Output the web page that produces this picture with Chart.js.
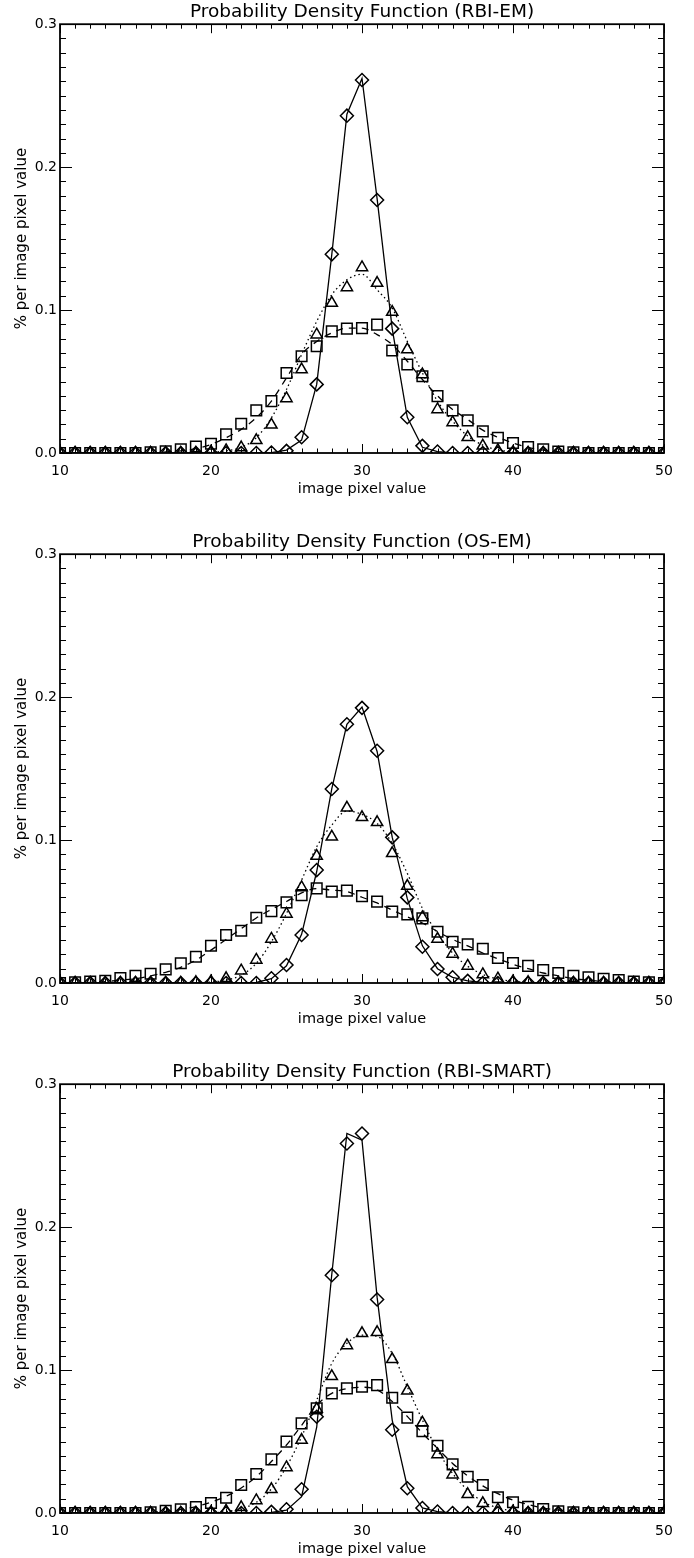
<!DOCTYPE html>
<html>
<head>
<meta charset="utf-8">
<script src="https://cdn.jsdelivr.net/npm/chart.js@4.4.0/dist/chart.umd.min.js"></script>
<style>
  body { margin: 0; background: #fff; overflow: hidden; }
  .panel { position: absolute; left: 0; }
</style>
</head>
<body>
<canvas id="pdfEm" class="panel" width="694" height="498" style="top:0px"></canvas>
<canvas id="pdfOs" class="panel" width="694" height="498" style="top:530px"></canvas>
<canvas id="pdfSmart" class="panel" width="694" height="498" style="top:1060px"></canvas>
<script>
const pixelValues = [10,11,12,13,14,15,16,17,18,19,20,21,22,23,24,25,26,27,28,29,30,31,32,33,34,35,36,37,38,39,40,41,42,43,44,45,46,47,48,49,50];
const xMajorTicks = [10, 20, 30, 40, 50];
const yMajorTicks = [0.0, 0.1, 0.2, 0.3];

// RBI-EM
const emDiamond = [0,0,0,0,0,0,0,0,0,0,0,0,0, 0,0.0003,0.0015,0.011,0.048,0.139,0.236,0.261,0.177,0.087,0.025,0.005,0.001, 0,0,0,0,0,0,0,0,0,0,0,0,0,0,0];
const emSolid = [0,0,0,0,0,0,0,0,0,0,0,0,0, 0,0.0003,0.002,0.009,0.048,0.139,0.237,0.262,0.178,0.087,0.025,0.004,0.001, 0,0,0,0,0,0,0,0,0,0,0,0,0,0,0];
const emTriangle = [0,0,0,0,0,0,0,0,0,0, 0.0008,0.0018,0.0038,0.0089,0.0197,0.0382,0.0584,0.0828,0.1049,0.1158,0.1298,0.1189,0.0986,0.0724,0.0549,0.0305,0.0214,0.011,0.005,0.0019,0.0006, 0,0,0,0,0,0,0,0,0,0];
const emDotted = [0,0,0,0,0,0,0,0,0,0, 0.0005,0.0015,0.004,0.0107,0.0246,0.0444,0.0689,0.0921,0.1107,0.1212,0.1251,0.1142,0.1014,0.0781,0.056,0.0363,0.0223,0.0119,0.0055,0.0022,0.0008, 0,0,0,0,0,0,0,0,0,0];
const emSquare = [0,0,0,0,0,0, 0.0005,0.0012,0.0025,0.0045,0.0065,0.013,0.0205,0.0298,0.0363,0.056,0.0677,0.0747,0.0851,0.087,0.0874,0.0898,0.0717,0.0619,0.0537,0.0398,0.0298,0.0228,0.0151,0.0107,0.007,0.0042,0.0025,0.001,0.0005, 0,0,0,0,0,0];
const emDashed = [0,0,0,0,0,0,0, 0.0007,0.0015,0.003,0.006,0.0107,0.0165,0.0247,0.0363,0.0526,0.069,0.078,0.084,0.0874,0.0874,0.0828,0.0758,0.0642,0.0514,0.04,0.0305,0.0235,0.016,0.011,0.007,0.004,0.002,0.001, 0,0,0,0,0,0,0];

// OS-EM
const osDiamond = [0,0,0,0,0,0,0,0,0,0,0,0,0,0, 0.0033,0.0126,0.0336,0.079,0.1357,0.181,0.1925,0.1625,0.1019,0.0599,0.0254,0.0098,0.004,0.0015, 0,0,0,0,0,0,0,0,0,0,0,0,0];
const osSolid = [0,0,0,0,0,0,0,0,0,0,0,0,0, 0.0005,0.003,0.012,0.034,0.078,0.136,0.181,0.193,0.162,0.102,0.059,0.026,0.01,0.004,0.0015,0.0005, 0,0,0,0,0,0,0,0,0,0,0,0];
const osTriangle = [0,0,0,0,0,0,0,0,0, 0.0005,0.001,0.0033,0.0086,0.0161,0.0308,0.0483,0.0669,0.0888,0.1023,0.1226,0.1159,0.1124,0.0907,0.0678,0.0459,0.0308,0.0203,0.0119,0.006,0.003,0.001,0.0005, 0,0,0,0,0,0,0,0,0];
const osDotted = [0,0,0,0,0,0,0,0,0,0, 0.0007,0.002,0.0055,0.0138,0.0289,0.0487,0.072,0.0953,0.1105,0.1203,0.118,0.1117,0.0977,0.0767,0.0522,0.0347,0.021,0.0117,0.006,0.0028,0.0012,0.0005, 0,0,0,0,0,0,0,0,0];
const osSquare = [0,0.0005,0.001,0.0015,0.0035,0.005,0.0065,0.0095,0.0138,0.0184,0.0261,0.0336,0.0366,0.0457,0.0503,0.0564,0.0615,0.0662,0.0639,0.0646,0.0608,0.0569,0.0499,0.048,0.0452,0.0359,0.0289,0.027,0.024,0.0175,0.014,0.012,0.009,0.007,0.005,0.004,0.003,0.002,0.001,0.0005,0];
const osDashed = [0,0,0.0005,0.001,0.002,0.003,0.005,0.0075,0.011,0.016,0.023,0.0305,0.038,0.0455,0.0515,0.057,0.063,0.066,0.065,0.064,0.06,0.056,0.051,0.0463,0.042,0.036,0.0305,0.026,0.021,0.017,0.013,0.01,0.007,0.005,0.003,0.002,0.001,0.0005,0,0,0];

// RBI-SMART
const smDiamond = [0,0,0,0,0,0,0,0,0,0,0,0,0,0, 0.0008,0.0026,0.0166,0.0673,0.1664,0.2585,0.2655,0.1494,0.0582,0.0173,0.0035,0.001, 0,0,0,0,0,0,0,0,0,0,0,0,0,0,0];
const smSolid = [0,0,0,0,0,0,0,0,0,0,0,0,0,0, 0.0005,0.002,0.0114,0.06,0.167,0.2655,0.2608,0.151,0.065,0.0184,0.0035,0.001, 0,0,0,0,0,0,0,0,0,0,0,0,0,0,0];
const smTriangle = [0,0,0,0,0,0,0,0,0,0, 0.0005,0.0015,0.004,0.0088,0.0166,0.0319,0.051,0.0727,0.0956,0.1172,0.1257,0.1264,0.1075,0.0855,0.0631,0.041,0.0268,0.0131,0.0068,0.0023,0.001, 0,0,0,0,0,0,0,0,0,0];
const smDotted = [0,0,0,0,0,0,0,0,0,0,0, 0.001,0.003,0.0075,0.0168,0.0324,0.0534,0.079,0.1047,0.1187,0.1245,0.1236,0.1117,0.0883,0.065,0.044,0.0277,0.016,0.008,0.0035,0.0015,0.0005, 0,0,0,0,0,0,0,0,0];
const smSquare = [0,0,0,0,0,0, 0.0005,0.0015,0.0025,0.0042,0.007,0.0107,0.0196,0.0273,0.0375,0.0499,0.0627,0.0732,0.0837,0.0872,0.0883,0.0895,0.0806,0.0667,0.0573,0.0471,0.034,0.0254,0.0196,0.011,0.0075,0.0044,0.0028,0.0012,0.0005, 0,0,0,0,0,0];
const smDashed = [0,0,0,0,0,0, 0.0005,0.0012,0.0025,0.0045,0.0075,0.0117,0.0175,0.0254,0.036,0.0476,0.0613,0.0755,0.0837,0.087,0.088,0.0862,0.078,0.0676,0.0559,0.0452,0.0347,0.026,0.019,0.0135,0.009,0.006,0.0035,0.002,0.001, 0,0,0,0,0,0];

Chart.defaults.font.family = 'DejaVu Sans';
Chart.defaults.color = '#000';

function pts(values) {
  return values.map((v, i) => ({ x: pixelValues[i], y: v }));
}

function lineSet(values, dash, smooth) {
  return {
    data: pts(values),
    borderColor: '#000',
    borderWidth: 1.3,
    borderDash: dash,
    pointRadius: 0,
    cubicInterpolationMode: smooth ? 'monotone' : 'default',
    clip: 0
  };
}

function markerSet(values, style, radius) {
  return {
    data: pts(values),
    showLine: false,
    pointStyle: style,
    pointRadius: radius,
    pointBorderColor: '#000',
    pointBackgroundColor: 'rgba(0,0,0,0)',
    pointBorderWidth: 1.5,
    clip: 0
  };
}

// IDL style box with inward ticks on all four sides
const boxTicks = {
  id: 'boxTicks',
  afterDatasetsDraw(chart) {
    const { ctx, chartArea: a, scales: { x, y } } = chart;
    ctx.save();
    ctx.strokeStyle = '#000';
    ctx.lineWidth = 1;
    ctx.beginPath();
    for (let v = 10; v <= 50; v++) {
      const px = Math.round(x.getPixelForValue(v)) + 0.5;
      const len = xMajorTicks.includes(v) ? 9 : 4.5;
      ctx.moveTo(px, a.bottom); ctx.lineTo(px, a.bottom - len);
      ctx.moveTo(px, a.top); ctx.lineTo(px, a.top + len);
    }
    for (let i = 0; i <= 30; i++) {
      const py = Math.round(y.getPixelForValue(i / 100)) + 0.5;
      const len = i % 10 === 0 ? 12 : 6;
      ctx.moveTo(a.left, py); ctx.lineTo(a.left + len, py);
      ctx.moveTo(a.right, py); ctx.lineTo(a.right - len, py);
    }
    ctx.stroke();
    ctx.lineWidth = 1.8;
    ctx.strokeRect(a.left, a.top, a.right - a.left, a.bottom - a.top);
    ctx.restore();
  }
};

function makePanel(id, title, solid, diamond, dotted, triangle, dashed, square) {
  return new Chart(document.getElementById(id), {
    type: 'line',
    data: {
      datasets: [
        lineSet(solid, [], false),
        lineSet(dotted, [1.5, 3], true),
        lineSet(dashed, [7, 6], true),
        markerSet(diamond, 'rectRot', 6.5),
        markerSet(triangle, 'triangle', 6.5),
        markerSet(square, 'rect', 7.5)
      ]
    },
    options: {
      responsive: false,
      animation: false,
      devicePixelRatio: 1,
      layout: { padding: { left: 0, right: 30, top: 0, bottom: 0 } },
      plugins: {
        legend: { display: false },
        tooltip: { enabled: false },
        title: {
          display: true,
          fullSize: false,
          text: title,
          color: '#000',
          font: { size: 18.5, weight: 'normal' },
          padding: { top: 1, bottom: 1 }
        }
      },
      scales: {
        x: {
          type: 'linear',
          min: 10,
          max: 50,
          grid: { display: false, drawTicks: false },
          border: { display: false },
          ticks: { stepSize: 10, maxRotation: 0, padding: 10, font: { size: 14 },
            callback: v => xMajorTicks.includes(v) ? String(v) : null },
          title: { display: true, text: 'image pixel value', font: { size: 14.5 }, padding: { top: 0, bottom: 0 } },
          afterFit(scale) { scale.height = 45; }
        },
        y: {
          min: 0,
          max: 0.3,
          grid: { display: false, drawTicks: false },
          border: { display: false },
          ticks: { stepSize: 0.1, padding: 3, font: { size: 14 },
            callback: v => yMajorTicks.some(t => Math.abs(t - v) < 1e-9) ? v.toFixed(1) : null },
          title: { display: true, text: '% per image pixel value', font: { size: 15 }, padding: { top: 13, bottom: 0 } },
          afterFit(scale) { scale.width = 60; }
        }
      }
    },
    plugins: [boxTicks]
  });
}

makePanel('pdfEm', 'Probability Density Function (RBI-EM)', emSolid, emDiamond, emDotted, emTriangle, emDashed, emSquare);
makePanel('pdfOs', 'Probability Density Function (OS-EM)', osSolid, osDiamond, osDotted, osTriangle, osDashed, osSquare);
makePanel('pdfSmart', 'Probability Density Function (RBI-SMART)', smSolid, smDiamond, smDotted, smTriangle, smDashed, smSquare);
</script>
</body>
</html>
